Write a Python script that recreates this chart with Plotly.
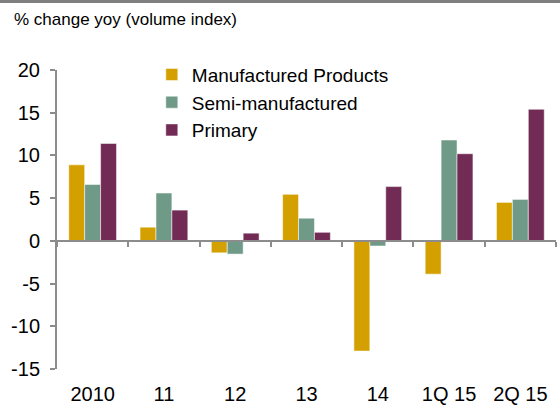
import plotly.graph_objects as go

categories = ["2010", "11", "12", "13", "14", "1Q 15", "2Q 15"]
manufactured = [8.9, 1.6, -1.4, 5.45, -12.9, -3.9, 4.5]
semi_manufactured = [6.6, 5.6, -1.55, 2.65, -0.6, 11.8, 4.85]
primary = [11.4, 3.6, 0.9, 1.0, 6.35, 10.2, 15.4]

y_ticks = [-15, -10, -5, 0, 5, 10, 15, 20]
y_tick_labels = ["-15", "-10", "-5", "0", "5", "10", "15", "20"]

colors = ["#D4A000", "#6F9A88", "#722B55"]
names = ["Manufactured Products", "Semi-manufactured", "Primary"]
series = [manufactured, semi_manufactured, primary]

fig = go.Figure()
for name, vals, col in zip(names, series, colors):
    fig.add_trace(go.Bar(x=categories, y=vals, name=name,
                         marker=dict(color=col, line=dict(color="rgba(255,255,255,0.5)", width=1))))

# invisible trace so the zero-line axis with boundary ticks gets drawn
fig.add_trace(go.Scatter(x=categories, y=[0] * len(categories), xaxis="x2",
                         mode="markers", marker=dict(opacity=0), showlegend=False,
                         hoverinfo="skip"))

font = "Liberation Sans, Arial, sans-serif"
axis_grey = "#8C8C8C"

fig.update_layout(
    width=560, height=406,
    margin=dict(l=57, r=4, t=69.5, b=37, autoexpand=False),
    paper_bgcolor="white", plot_bgcolor="white",
    font=dict(family=font, size=20, color="#000000"),
    barmode="group", bargap=0.33, bargroupgap=0,
    title=dict(text="% change yoy (volume index)", x=14 / 560, xanchor="left",
               xref="container", y=1 - 19 / 406, yref="container", yanchor="middle",
               font=dict(size=17, color="#000000")),
    legend=dict(x=0.19, xanchor="left", y=1.048, yanchor="top",
                font=dict(size=19), bgcolor="rgba(0,0,0,0)", tracegroupgap=0),
    xaxis=dict(type="category", showline=False, ticks="", showgrid=False,
               zeroline=False, ticklabelstandoff=11),
    xaxis2=dict(type="category", overlaying="x", matches="x", anchor="free",
                position=15 / 35, side="bottom", showticklabels=False,
                showline=True, linecolor=axis_grey, linewidth=2,
                ticks="outside", tickson="boundaries", ticklen=5, tickwidth=2,
                tickcolor=axis_grey, showgrid=False),
    yaxis=dict(range=[-15, 20], tickvals=y_ticks, ticktext=y_tick_labels,
               showline=True, linecolor=axis_grey, linewidth=2,
               ticks="outside", ticklen=5, tickwidth=2, tickcolor=axis_grey,
               showgrid=False, zeroline=False, ticklabelstandoff=6),
    shapes=[dict(type="line", xref="paper", yref="paper",
                 x0=-0.12, x1=1.01, y0=1 + 68.5 / 299.5, y1=1 + 68.5 / 299.5,
                 line=dict(color="#7F7F7F", width=3))],
)

# drop the default page margin so the figure sits at the window corner
fig.write_html("out.html", config={"displayModeBar": False},
               post_script="document.body.style.margin='0';")
